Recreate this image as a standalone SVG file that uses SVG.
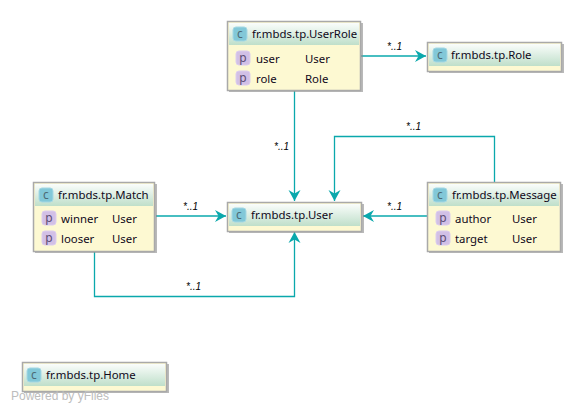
<svg xmlns="http://www.w3.org/2000/svg" width="583" height="412" viewBox="0 0 583 412">
<style>
text{font-family:"Noto Sans","Open Sans","DejaVu Sans",sans-serif;font-size:11.4px;fill:#10081a}
.box{fill:#fdf9d2;stroke:#a9a9a9;stroke-width:1.5}
.shadow{fill:#8a8a8a;opacity:.6}
.head{fill:url(#hg)}
.ci{fill:#82c8d8;stroke:#a5d8e4}
.pi{fill:#d2c0e6;stroke:#dccdee}
.il{font-size:12px;fill:#4d6a75;text-anchor:middle}
.pl{font-size:12px;fill:#5c4d75;text-anchor:middle}
.e{fill:none;stroke:#0aa8ac;stroke-width:1.3}
.m{font-family:"Liberation Sans",sans-serif;font-size:10px;font-style:italic;fill:#000}
.wm{font-family:"Liberation Sans",sans-serif;font-size:12px;fill:#bdbdbd}
</style>
<defs>
<linearGradient id="hg" x1="0" y1="0" x2="0" y2="1"><stop offset="0" stop-color="#fafdfb"/><stop offset="1" stop-color="#bfdfca"/></linearGradient>
<marker id="a" markerUnits="userSpaceOnUse" markerWidth="13" markerHeight="14" refX="11" refY="7" orient="auto"><path d="M0 1L11 7L0 13L3.500 7Z" fill="#0aa8ac"/></marker>
</defs>
<rect width="583" height="412" fill="#fff"/>
<g id="connectors">
<path class="e" marker-end="url(#a)" d="M361 56H426"/>
<path class="e" marker-end="url(#a)" d="M294.500 91V201"/>
<path class="e" marker-end="url(#a)" d="M156 216H226"/>
<path class="e" marker-end="url(#a)" d="M94.500 252V296.500H294.500V232"/>
<path class="e" marker-end="url(#a)" d="M494.500 182V136.500H334.500V201"/>
<path class="e" marker-end="url(#a)" d="M427 216H363"/>
<text class="m" x="387" y="50">*..1</text>
<text class="m" x="274" y="150">*..1</text>
<text class="m" x="183" y="210">*..1</text>
<text class="m" x="186" y="290">*..1</text>
<text class="m" x="406" y="130">*..1</text>
<text class="m" x="387" y="210">*..1</text>
</g>
<g id="userrole">
<rect class="shadow" x="229" y="23" width="134" height="69"/>
<rect class="box" x="227.500" y="21.500" width="133" height="69"/>
<rect class="head" x="229" y="23" width="130" height="22"/>
<rect class="ci" x="233" y="27" width="14" height="14" rx="3"/><text class="il" x="240" y="38">c</text>
<text x="252" y="38">fr.mbds.tp.UserRole</text>
<rect class="pi" x="236" y="51" width="14" height="14" rx="3"/><text class="pl" x="243" y="62">p</text>
<text x="256" y="63">user</text><text x="305" y="63">User</text>
<rect class="pi" x="236" y="71" width="14" height="14" rx="3"/><text class="pl" x="243" y="82">p</text>
<text x="256" y="83">role</text><text x="305" y="83">Role</text>
</g>
<g id="role">
<rect class="shadow" x="429" y="44" width="135" height="29"/>
<rect class="box" x="427.500" y="42.500" width="134" height="29"/>
<rect class="head" x="429" y="44" width="131" height="22"/>
<rect class="ci" x="433" y="48" width="14" height="14" rx="3"/><text class="il" x="440" y="59">c</text>
<text x="451" y="59">fr.mbds.tp.Role</text>
</g>
<g id="match">
<rect class="shadow" x="35" y="184" width="122" height="69"/>
<rect class="box" x="33.500" y="182.500" width="121" height="69"/>
<rect class="head" x="35" y="184" width="118" height="22"/>
<rect class="ci" x="39" y="188" width="14" height="14" rx="3"/><text class="il" x="46" y="199">c</text>
<text x="58" y="199">fr.mbds.tp.Match</text>
<rect class="pi" x="42" y="211" width="14" height="14" rx="3"/><text class="pl" x="49" y="222">p</text>
<text x="61" y="223">winner</text><text x="112" y="223">User</text>
<rect class="pi" x="42" y="231" width="14" height="14" rx="3"/><text class="pl" x="49" y="242">p</text>
<text x="61" y="243">looser</text><text x="112" y="243">User</text>
</g>
<g id="user">
<rect class="shadow" x="229" y="204" width="135" height="29"/>
<rect class="box" x="227.500" y="202.500" width="134" height="29"/>
<rect class="head" x="229" y="204" width="131" height="22"/>
<rect class="ci" x="232" y="208" width="14" height="14" rx="3"/><text class="il" x="239" y="219">c</text>
<text x="251" y="219">fr.mbds.tp.User</text>
</g>
<g id="message">
<rect class="shadow" x="429" y="184" width="134" height="69"/>
<rect class="box" x="427.500" y="182.500" width="133" height="69"/>
<rect class="head" x="429" y="184" width="130" height="22"/>
<rect class="ci" x="433" y="188" width="14" height="14" rx="3"/><text class="il" x="440" y="199">c</text>
<text x="452" y="199">fr.mbds.tp.Message</text>
<rect class="pi" x="436" y="211" width="14" height="14" rx="3"/><text class="pl" x="443" y="222">p</text>
<text x="455" y="223">author</text><text x="512" y="223">User</text>
<rect class="pi" x="436" y="231" width="14" height="14" rx="3"/><text class="pl" x="443" y="242">p</text>
<text x="455" y="243">target</text><text x="512" y="243">User</text>
</g>
<g id="home">
<rect class="shadow" x="24" y="364" width="145" height="29"/>
<rect class="box" x="22.500" y="362.500" width="144" height="29"/>
<rect class="head" x="24" y="364" width="141" height="22"/>
<rect class="ci" x="27" y="368" width="14" height="14" rx="3"/><text class="il" x="34" y="379">c</text>
<text x="46" y="379">fr.mbds.tp.Home</text>
</g>
<text class="wm" x="11" y="400">Powered by yFiles</text>
</svg>
